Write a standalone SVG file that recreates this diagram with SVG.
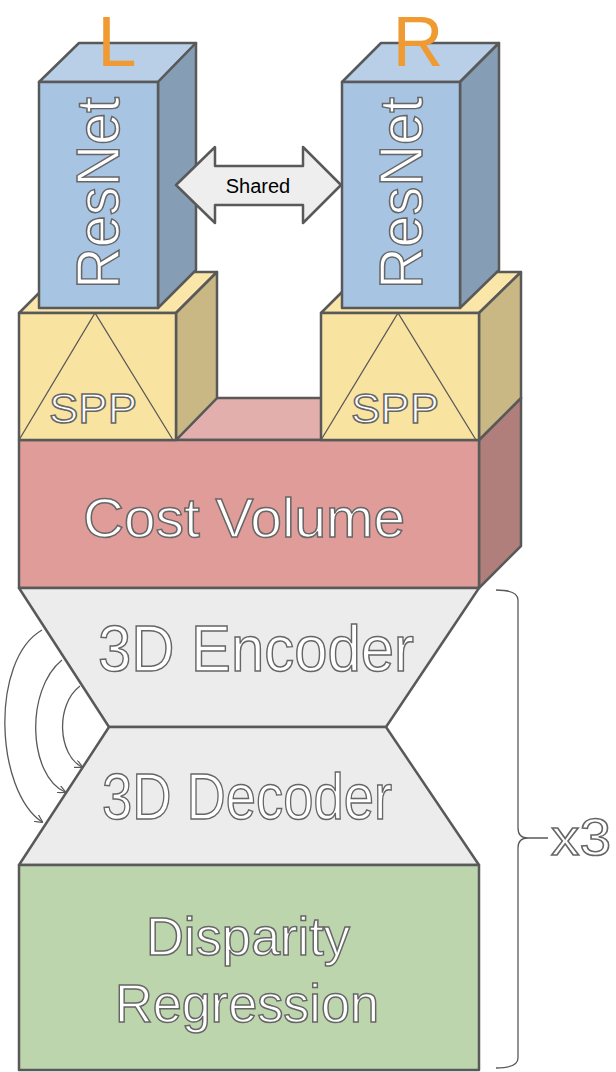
<svg xmlns="http://www.w3.org/2000/svg" width="616" height="1072" viewBox="0 0 616 1072">
<style>
.e{stroke:#595959;stroke-width:2.5;stroke-linejoin:round}
.o{font-family:"Liberation Sans",Arial,sans-serif;fill:#fff;stroke:#666;stroke-width:1.5;text-anchor:middle}
.c{fill:none;stroke:#595959;stroke-width:1.3}
.l{font-family:"Liberation Sans",Arial,sans-serif;font-size:70px;fill:#f09a34;text-anchor:middle}
</style>
<defs><marker id="a" markerWidth="8" markerHeight="8" refX="7" refY="4" orient="auto" markerUnits="userSpaceOnUse"><path d="M0,0 L8,4 L0,8" fill="none" stroke="#595959" stroke-width="1.2"/></marker></defs>
<g id="cost">
<polygon class="e" points="176,440 217,398 521,398 479,440" fill="#e3afad"/>
<polygon class="e" points="479,440 521,398 521,546 479,588" fill="#b07f7b"/>
<rect class="e" x="19" y="440" width="460" height="148" fill="#df9c99"/>
<text class="o" x="244" y="537" font-size="56" textLength="322" lengthAdjust="spacingAndGlyphs">Cost Volume</text>
</g>
<g id="sppL">
<polygon class="e" points="19,313 60,272 217,272 176,313" fill="#fbe6a9"/>
<polygon class="e" points="176,313 217,272 217,398 176,440" fill="#c9b883"/>
<rect class="e" x="19" y="313" width="157" height="127" fill="#f9e3a0"/>
<polyline class="c" stroke-width="1.8" points="19,440 95,313 173,440"/>
<text class="o" x="93" y="423" font-size="42" stroke-width="2" textLength="88" lengthAdjust="spacingAndGlyphs">SPP</text>
</g>
<g id="sppR">
<polygon class="e" points="321,313 362,272 521,272 479,313" fill="#fbe6a9"/>
<polygon class="e" points="479,313 521,272 521,398 479,440" fill="#c9b883"/>
<rect class="e" x="321" y="313" width="158" height="127" fill="#f9e3a0"/>
<polyline class="c" stroke-width="1.8" points="321,440 398,313 476,440"/>
<text class="o" x="395" y="423" font-size="42" stroke-width="2" textLength="88" lengthAdjust="spacingAndGlyphs">SPP</text>
</g>
<g id="resnetL">
<polygon class="e" points="39,82 79,43 196,43 158,82" fill="#b8cfe7"/>
<polygon class="e" points="158,82 196,43 196,270 158,308" fill="#859db5"/>
<rect class="e" x="39" y="82" width="119" height="226" fill="#a7c4e3"/>
<text class="o" transform="translate(119,193) rotate(-90)" font-size="62" textLength="192" lengthAdjust="spacingAndGlyphs">ResNet</text>
<text class="l" x="117" y="66">L</text>
</g>
<g id="resnetR">
<polygon class="e" points="342,82 381,43 499,43 460,82" fill="#b8cfe7"/>
<polygon class="e" points="460,82 499,43 499,270 460,308" fill="#859db5"/>
<rect class="e" x="342" y="82" width="118" height="226" fill="#a7c4e3"/>
<text class="o" transform="translate(422,193) rotate(-90)" font-size="62" textLength="192" lengthAdjust="spacingAndGlyphs">ResNet</text>
<text class="l" x="418" y="66">R</text>
</g>
<g id="shared">
<polygon class="e" stroke-width="1.5" points="176,185 215,147 215,166 303,166 303,147 341,185 303,223 303,205 215,205 215,223" fill="#eeeeee"/>
<text x="258" y="193" font-family="Liberation Sans,Arial,sans-serif" font-size="20" fill="#000" text-anchor="middle">Shared</text>
</g>
<g id="encoder">
<polygon class="e" points="19,588 479,588 386,727 109,727" fill="#ececec"/>
<text class="o" x="256" y="671" font-size="64" textLength="316" lengthAdjust="spacingAndGlyphs">3D Encoder</text>
</g>
<g id="decoder">
<polygon class="e" points="109,727 386,727 479,865 19,865" fill="#ececec"/>
<text class="o" x="247" y="819" font-size="64" textLength="290" lengthAdjust="spacingAndGlyphs">3D Decoder</text>
</g>
<g id="disparity">
<rect class="e" x="19" y="865" width="460" height="205" fill="#bcd5ad"/>
<text class="o" x="248" y="955" font-size="54" textLength="204" lengthAdjust="spacingAndGlyphs">Disparity</text>
<text class="o" x="247" y="1022" font-size="54" textLength="264" lengthAdjust="spacingAndGlyphs">Regression</text>
</g>
<g id="connectors">
<path class="c" d="M42,630 C-10,660 -5,790 42,822" marker-end="url(#a)"/>
<path class="c" d="M62,660 C25,690 28,775 65,792" marker-end="url(#a)"/>
<path class="c" d="M80,686 C55,705 58,755 82,767" marker-end="url(#a)"/>
<path class="c" d="M496,590 Q518,590 518,600 L518,828 Q518,838 528,838 L548,838 M528,838 Q518,838 518,848 L518,1058 Q518,1068 496,1068"/>
<text x="581" y="855" font-family="Liberation Sans,Arial,sans-serif" font-size="52" fill="#fff" stroke="#666" stroke-width="1.5" text-anchor="middle" textLength="60" lengthAdjust="spacingAndGlyphs">x3</text>
</g>
</svg>
